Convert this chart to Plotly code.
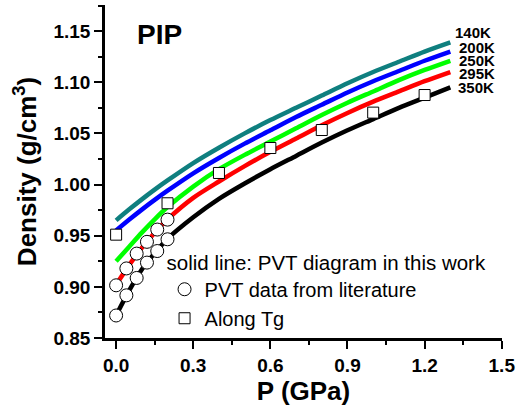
import plotly.graph_objects as go

# Pressure grid (GPa) for the PVT isotherms
P_line = [0.0, 0.05, 0.1, 0.15, 0.2, 0.3, 0.4, 0.5, 0.6, 0.7, 0.8, 0.9, 1.0, 1.1, 1.2, 1.3]
rho_140K = [0.965, 0.9755, 0.9855, 0.995, 1.004, 1.021, 1.036, 1.050, 1.063, 1.075, 1.087, 1.099, 1.110, 1.120, 1.130, 1.139]
rho_200K = [0.955, 0.9655, 0.9755, 0.985, 0.994, 1.011, 1.026, 1.040, 1.053, 1.066, 1.078, 1.090, 1.101, 1.111, 1.121, 1.130]
rho_250K = [0.925, 0.939, 0.953, 0.966, 0.978, 0.998, 1.015, 1.029, 1.042, 1.055, 1.068, 1.080, 1.091, 1.102, 1.112, 1.121]
rho_295K = [0.902, 0.921, 0.938, 0.953, 0.966, 0.987, 1.003, 1.018, 1.032, 1.045, 1.058, 1.070, 1.081, 1.091, 1.101, 1.110]
rho_350K = [0.872, 0.896, 0.917, 0.933, 0.947, 0.968, 0.986, 1.001, 1.015, 1.028, 1.041, 1.053, 1.064, 1.075, 1.085, 1.095]

# PVT data from literature
lit_P = [0.0, 0.04, 0.08, 0.12, 0.16, 0.2]
lit_295K = [0.9015, 0.918, 0.9325, 0.944, 0.956, 0.9657]
lit_350K = [0.872, 0.8917, 0.9087, 0.9237, 0.935, 0.9465]

# Along Tg
tg_P = [0.0, 0.2, 0.4, 0.6, 0.8, 1.0, 1.2]
tg_rho = [0.951, 0.9817, 1.0113, 1.0357, 1.0533, 1.0703, 1.0875]

curve_names = ["140K", "200K", "250K", "295K", "350K"]
curve_colors = ["#0f7f7f", "#0000ff", "#00ff00", "#ff0000", "#000000"]
curves = [rho_140K, rho_200K, rho_250K, rho_295K, rho_350K]
label_y = [1.1491, 1.1339, 1.1215, 1.1085, 1.0948]
label_x = [1.312, 1.325, 1.325, 1.325, 1.322]

x_ticks = [0.0, 0.3, 0.6, 0.9, 1.2, 1.5]
y_ticks = [0.85, 0.90, 0.95, 1.00, 1.05, 1.10, 1.15]

FONT = "Liberation Sans, Arial, sans-serif"
X_RANGE = [-0.0432, 1.501]
Y_RANGE = [0.85, 1.1755]

fig = go.Figure()
for name, color, rho in zip(curve_names, curve_colors, curves):
    fig.add_trace(go.Scatter(x=P_line, y=rho, mode="lines", name=name,
                             line=dict(color=color, width=4.5, shape="spline", smoothing=0.8),
                             showlegend=False))

fig.add_trace(go.Scatter(x=lit_P + lit_P, y=lit_295K + lit_350K, mode="markers",
                         name="PVT data from literature",
                         marker=dict(symbol="circle", size=13, color="white",
                                     line=dict(color="black", width=1))))
fig.add_trace(go.Scatter(x=tg_P, y=tg_rho, mode="markers", name="Along Tg",
                         marker=dict(symbol="square", size=11, color="white",
                                     line=dict(color="black", width=1))))

for name, lx, ly in zip(curve_names, label_x, label_y):
    fig.add_annotation(x=lx, y=ly, text=name, showarrow=False, xanchor="left",
                       yanchor="middle", font=dict(family=FONT, size=15, color="black", weight="bold"))

fig.add_annotation(xref="paper", yref="paper", x=0.075, y=0.91, text="PIP", showarrow=False,
                   xanchor="left", yanchor="middle",
                   font=dict(family=FONT, size=28, color="black", weight="bold"))

axis_common = dict(showline=True, linecolor="black", linewidth=2.5, showgrid=False,
                   zeroline=False, ticks="outside", ticklen=8, tickwidth=2, tickcolor="black",
                   tickfont=dict(family=FONT, size=19, color="black", weight="bold"))

fig.update_layout(
    width=520, height=409,
    margin=dict(l=105, r=15, t=5, b=71),
    paper_bgcolor="white", plot_bgcolor="white",
    xaxis=dict(range=X_RANGE, tickvals=x_ticks, tickformat=".1f",
               minor=dict(dtick=0.15, tick0=0, ticks="outside", ticklen=4, tickwidth=2, tickcolor="black"),
               title=dict(text="P (GPa)", font=dict(family=FONT, size=26, color="black", weight="bold"),
                          standoff=0),
               **axis_common),
    yaxis=dict(range=Y_RANGE, tickvals=y_ticks, tickformat=".2f",
               minor=dict(dtick=0.025, tick0=0.85, ticks="outside", ticklen=4, tickwidth=2, tickcolor="black"),
               title=dict(text="Density (g/cm<sup>3</sup>)",
                          font=dict(family=FONT, size=26, color="black", weight="bold"), standoff=10),
               **axis_common),
    xaxis2=dict(overlaying="x", side="top", range=X_RANGE, showline=True, linecolor="black",
                linewidth=2.5, showgrid=False, zeroline=False, showticklabels=False,
                tickvals=x_ticks, ticks="inside", ticklen=5, tickwidth=2, tickcolor="black",
                minor=dict(dtick=0.15, tick0=0, ticks="inside", ticklen=3, tickwidth=2, tickcolor="black")),
    yaxis2=dict(overlaying="y", side="right", range=Y_RANGE, showline=True, linecolor="black",
                linewidth=2.5, showgrid=False, zeroline=False, showticklabels=False,
                tickvals=y_ticks, ticks="inside", ticklen=5, tickwidth=2, tickcolor="black",
                minor=dict(dtick=0.025, tick0=0.85, ticks="inside", ticklen=3, tickwidth=2, tickcolor="black")),
    legend=dict(x=0.15, y=0.285, xanchor="left", yanchor="top", bgcolor="rgba(0,0,0,0)",
                font=dict(family=FONT, size=20, color="black"),
                title=dict(text="solid line: PVT diagram in this work",
                           font=dict(family=FONT, size=20.5, color="black"), side="top"),
                tracegroupgap=0),
    showlegend=True,
)

fig.write_html("out.html")
